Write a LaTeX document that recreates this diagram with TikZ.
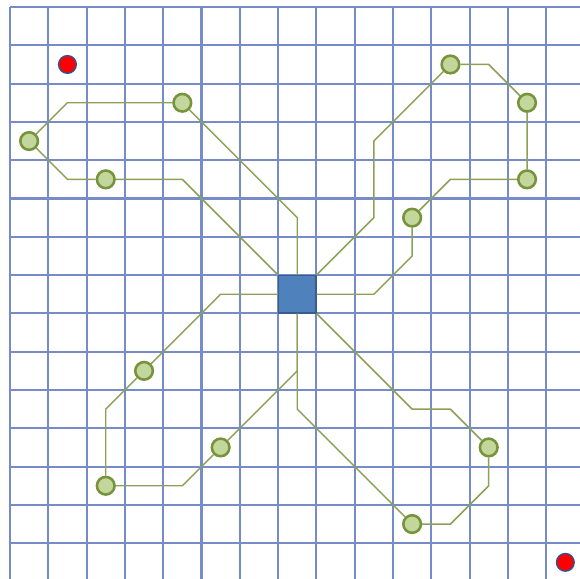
\documentclass[tikz,border=0pt]{standalone}
\usepackage{tikz}
\usetikzlibrary{calc}

\definecolor{gridblue}{RGB}{118,140,200}
\definecolor{wiregreen}{RGB}{140,160,88}
\definecolor{padfill}{RGB}{195,214,155}
\definecolor{padedge}{RGB}{119,147,60}
\definecolor{hubfill}{RGB}{79,129,189}
\definecolor{hubedge}{RGB}{56,93,138}
\definecolor{dotedge}{RGB}{60,78,135}

\begin{document}
\begin{tikzpicture}[yscale=-1,
  wire/.style={wiregreen, line width=1.1pt, line join=round},
  pad/.style={circle, draw=padedge, fill=padfill, line width=1.9pt, minimum size=0.46cm, inner sep=0pt},
  hub/.style={rectangle, draw=hubedge, fill=hubfill, line width=1.1pt, minimum size=0.97cm, inner sep=0pt},
  dot/.style={circle, draw=dotedge, fill=red, line width=1.1pt, minimum size=0.46cm, inner sep=0pt}]
\useasboundingbox (-0.261,-0.183) rectangle (14.883,14.91);
\fill[white] (-0.261,-0.183) rectangle (14.883,14.91);
% grid
\begin{scope}
\clip (-0.261,-0.183) rectangle (14.883,14.91);
\draw[gridblue, line width=1.6pt] (0,0) grid (15.5,15.5);
\end{scope}
% hub, pads and dots
\node[hub] (hub) at (7.5,7.5) {};
\node[dot] (r1) at (1.5,1.5) {};
\node[dot] (r2) at (14.5,14.5) {};
\foreach \n/\p in {c1/{4.5,2.5}, c2/{0.5,3.5}, c3/{2.5,4.5}, c4/{11.5,1.5}, c5/{13.5,2.5}, c6/{13.5,4.5},
                   c7/{10.5,5.5}, c8/{3.5,9.5}, c9/{5.5,11.5}, c10/{2.5,12.5}, c11/{12.5,11.5}, c12/{10.5,13.5}}
  \node[pad] (\n) at (\p) {};
% bend points
\coordinate (a1) at (7.5,5.5);
\coordinate (a2) at (1.5,2.5);
\coordinate (a3) at (1.5,4.5);
\coordinate (a4) at (4.5,4.5);
\coordinate (b1) at (9.5,5.5);
\coordinate (b2) at (9.5,3.5);
\coordinate (b3) at (12.5,1.5);
\coordinate (b4) at (11.5,4.5);
\coordinate (b5) at (10.5,6.5);
\coordinate (b6) at (9.5,7.5);
\coordinate (d1) at (5.5,7.5);
\coordinate (d2) at (2.5,10.5);
\coordinate (d3) at (4.5,12.5);
\coordinate (d4) at (7.5,9.5);
\coordinate (e1) at (10.5,10.5);
\coordinate (e2) at (11.5,10.5);
\coordinate (e3) at (12.5,12.5);
\coordinate (e4) at (11.5,13.5);
\coordinate (e5) at (7.5,10.5);
% wires, one loop per quadrant
\draw[wire] (hub.north) -- (a1) -- (c1) -- (a2) -- (c2) -- (a3) -- (c3) -- (a4) -- (hub.north west);
\draw[wire] (hub.north east) -- (b1) -- (b2) -- (c4) -- (b3) -- (c5) -- (c6) -- (b4) -- (c7) -- (b5) -- (b6) -- (hub.east);
\draw[wire] (hub.west) -- (d1) -- (c8) -- (d2) -- (c10) -- (d3) -- (c9) -- (d4) -- (hub.south);
\draw[wire] (hub.south east) -- (e1) -- (e2) -- (c11) -- (e3) -- (e4) -- (c12) -- (e5) -- (hub.south);
\end{tikzpicture}
\end{document}
